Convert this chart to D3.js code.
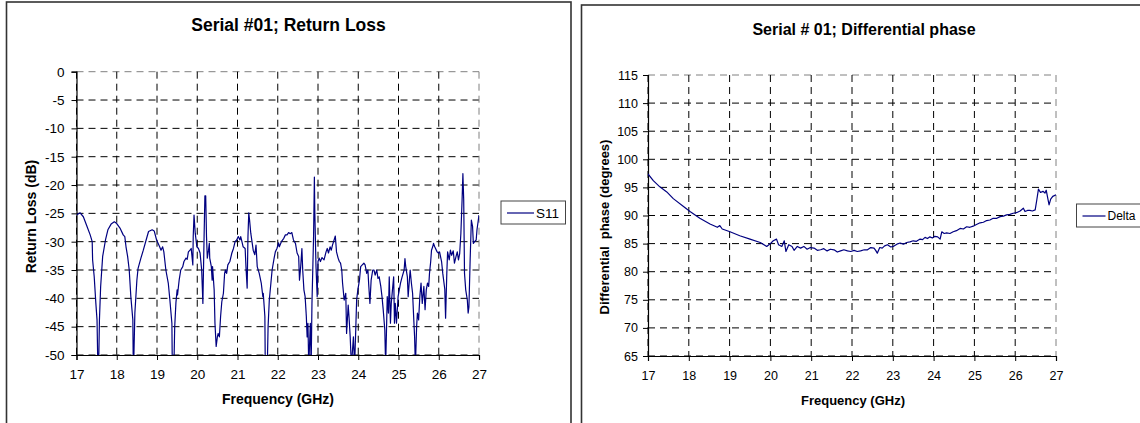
<!DOCTYPE html>
<html>
<head>
<meta charset="utf-8">
<script src="https://cdn.jsdelivr.net/npm/d3@7"></script>
<style>
  html, body { margin: 0; padding: 0; background: #fff; }
  svg { display: block; font-family: "Liberation Sans", Arial, sans-serif; }
</style>
</head>
<body>
<svg id="chart" width="1140" height="423"></svg>
<script>
// ---- Return loss (S11) measurement, dB vs GHz ----
const s11Freq = [
  17.0, 17.09, 17.17, 17.25, 17.34, 17.39, 17.40, 17.44, 17.48, 17.51, 17.53, 17.55, 17.57, 17.60, 17.65, 17.72, 17.78, 17.86, 17.94,
  18.0, 18.08, 18.16, 18.20, 18.23, 18.27, 18.31, 18.35, 18.40, 18.41, 18.42, 18.45, 18.50, 18.53, 18.60, 18.66, 18.73, 18.79, 18.88, 18.93, 18.99,
  19.06, 19.10, 19.14, 19.17, 19.22, 19.28, 19.32, 19.37, 19.38, 19.42, 19.44, 19.47, 19.50, 19.51, 19.55, 19.59, 19.64, 19.67, 19.72, 19.75, 19.78, 19.82, 19.85, 19.89, 19.90, 19.92, 19.95, 19.99,
  20.03, 20.07, 20.11, 20.14, 20.15, 20.17, 20.19, 20.21, 20.23, 20.25, 20.28, 20.30, 20.31, 20.35, 20.37, 20.38, 20.42, 20.44, 20.47, 20.50, 20.52, 20.55, 20.58, 20.61, 20.65, 20.68, 20.70, 20.73, 20.76, 20.81, 20.86, 20.90, 20.94, 20.98,
  21.02, 21.06, 21.08, 21.11, 21.14, 21.19, 21.21, 21.24, 21.26, 21.28, 21.30, 21.33, 21.36, 21.39, 21.43, 21.46, 21.49, 21.54, 21.59, 21.63, 21.64, 21.68, 21.69, 21.74, 21.76, 21.79, 21.83, 21.86, 21.91, 21.94, 21.98,
  22.02, 22.04, 22.09, 22.15, 22.19, 22.23, 22.27, 22.31, 22.35, 22.39, 22.44, 22.48, 22.52, 22.54, 22.57, 22.60, 22.62, 22.65, 22.68, 22.71, 22.73, 22.75, 22.77, 22.81, 22.83, 22.85, 22.87, 22.89, 22.91, 22.92, 22.95, 22.98,
  23.00, 23.03, 23.06, 23.10, 23.15, 23.20, 23.23, 23.26, 23.30, 23.33, 23.36, 23.40, 23.43, 23.46, 23.50, 23.53, 23.56, 23.59, 23.61, 23.65, 23.69, 23.71, 23.75, 23.77, 23.80, 23.83, 23.88, 23.91, 23.94, 23.96, 23.99,
  24.03, 24.06, 24.10, 24.14, 24.17, 24.21, 24.24, 24.26, 24.29, 24.32, 24.36, 24.39, 24.42, 24.46, 24.49, 24.52, 24.56, 24.59, 24.62, 24.66, 24.68, 24.70, 24.72, 24.75, 24.77, 24.80, 24.82, 24.85, 24.88, 24.90, 24.92, 24.95, 24.99,
  25.02, 25.05, 25.09, 25.14, 25.16, 25.18, 25.22, 25.24, 25.27, 25.29, 25.32, 25.35, 25.38, 25.40, 25.42, 25.45, 25.47, 25.50, 25.53, 25.56, 25.59, 25.63, 25.66, 25.69, 25.72, 25.75, 25.77, 25.80, 25.82, 25.85, 25.87, 25.90, 25.96, 25.99,
  26.02, 26.07, 26.10, 26.15, 26.17, 26.20, 26.22, 26.26, 26.29, 26.32, 26.36, 26.39, 26.43, 26.46, 26.49, 26.52, 26.55, 26.58, 26.60, 26.62, 26.64, 26.67, 26.71, 26.73, 26.75, 26.78, 26.81, 26.84, 26.86, 26.89, 26.93, 26.95, 27.0
];
const s11 = [
  -25.3, -24.9, -25.6, -27.1, -28.8, -30.0, -33.2, -36.2, -40.8, -43.8, -52, -52, -43.8, -37.9, -32.6, -29.7, -27.9, -26.9, -26.5,
  -26.8, -27.6, -28.8, -29.1, -30.9, -32.6, -35.0, -39.7, -43.8, -52, -52, -42.6, -36.8, -34.7, -32.9, -31.5, -29.7, -28.2, -27.9, -28.1, -29.7,
  -30.8, -31.5, -30.9, -31.8, -35.0, -37.3, -40.3, -44.4, -52, -52, -45.0, -40.8, -38.5, -39.4, -36.8, -35.0, -34.4, -33.5, -32.9, -33.1, -31.8, -31.5, -31.2, -34.1, -29.1, -25.3, -28.5, -30.9,
  -31.2, -32.0, -35.0, -40.9, -36.8, -29.1, -21.9, -21.9, -29.1, -32.9, -31.5, -30.3, -32.9, -34.4, -36.8, -34.4, -38.5, -44.4, -48.5, -46.8, -46.2, -46.8, -43.2, -40.6, -39.1, -35.6, -35.0, -35.6, -34.1, -33.5, -32.0, -31.2, -30.0, -29.7,
  -29.1, -29.7, -29.1, -30.0, -30.9, -31.2, -34.4, -38.2, -29.1, -24.9, -26.2, -28.5, -30.0, -31.5, -32.3, -30.6, -34.4, -35.6, -37.3, -39.7, -39.1, -43.2, -52, -52, -45.0, -40.3, -37.3, -35.0, -32.9, -31.8, -31.2,
  -30.2, -30.9, -30.0, -29.4, -28.8, -28.8, -28.4, -28.6, -28.4, -29.7, -30.3, -32.0, -32.6, -36.8, -34.4, -31.2, -35.0, -38.5, -39.7, -43.2, -46.8, -44.4, -52, -44.4, -52, -40.9, -35.0, -29.1, -18.6, -24.4, -34.4, -39.7,
  -33.5, -32.9, -33.5, -32.8, -33.2, -31.8, -31.2, -32.0, -30.9, -31.5, -30.6, -29.7, -29.0, -31.8, -32.9, -33.5, -33.8, -35.0, -37.3, -40.3, -39.1, -46.2, -41.2, -43.2, -46.8, -52, -46.8, -52, -45.0, -40.3, -38.5,
  -36.8, -34.4, -34.1, -33.8, -34.1, -35.6, -35.0, -37.6, -40.9, -36.8, -35.0, -35.0, -35.9, -35.0, -36.5, -36.2, -37.9, -39.7, -42.0, -45.6, -52, -46.2, -39.7, -42.6, -36.2, -44.4, -40.9, -38.5, -36.2, -44.4, -40.9, -44.4, -39.7,
  -38.5, -37.3, -36.2, -35.0, -33.0, -34.4, -36.2, -39.7, -36.8, -35.0, -37.3, -39.1, -43.8, -46.8, -52, -45.0, -42.6, -43.8, -39.7, -37.3, -40.9, -37.9, -42.0, -38.5, -37.3, -37.9, -35.6, -33.5, -31.5, -30.9, -30.3, -30.9, -31.8, -32.0,
  -31.8, -33.5, -35.6, -38.4, -43.5, -35.6, -31.8, -33.2, -31.5, -32.4, -31.6, -33.8, -32.6, -31.8, -33.2, -32.1, -28.5, -22.6, -18.0, -22.6, -35.6, -38.5, -40.3, -42.6, -41.5, -33.2, -26.2, -27.3, -30.3, -30.0, -29.7, -27.9, -25.3
];

// ---- Differential phase measurement, degrees vs GHz ----
const deltaFreq = [
  17.0, 17.13, 17.29, 17.46, 17.62, 17.87, 18.03, 18.27, 18.52, 18.70, 18.76, 18.82, 19.01, 19.25, 19.50, 19.75, 19.91, 20.0, 20.07, 20.15, 20.20, 20.28, 20.34, 20.38,
  20.45, 20.53, 20.58, 20.66, 20.74, 20.82, 20.90, 20.98, 21.07, 21.15, 21.23, 21.31, 21.39, 21.47, 21.56, 21.64, 21.72, 21.80, 21.89, 21.97, 22.05, 22.13, 22.21, 22.30,
  22.38, 22.46, 22.54, 22.58, 22.62, 22.68, 22.74, 22.80, 22.87, 22.95, 23.01, 23.10, 23.18, 23.26, 23.34, 23.42, 23.50, 23.58, 23.67, 23.73, 23.79, 23.85, 23.91, 23.97, 24.03, 24.10,
  24.16, 24.20, 24.26, 24.32, 24.40, 24.48, 24.56, 24.65, 24.73, 24.81, 24.89, 24.97, 25.05, 25.14, 25.22, 25.30, 25.38, 25.46, 25.55, 25.63, 25.71, 25.79, 25.87, 25.95, 26.03, 26.12,
  26.20, 26.24, 26.30, 26.36, 26.42, 26.49, 26.53, 26.57, 26.62, 26.68, 26.73, 26.76, 26.80, 26.83, 26.87, 26.92, 27.0
];
const delta = [
  97.4, 96.2, 95.1, 94.2, 93.0, 91.6, 90.7, 89.5, 88.5, 87.9, 88.2, 87.6, 87.1, 86.4, 85.8, 85.2, 84.5, 85.0, 85.5, 85.8, 84.8, 84.5, 85.5, 83.6,
  84.8, 84.5, 83.8, 84.5, 84.2, 84.5, 84.0, 84.3, 84.2, 83.8, 83.9, 84.1, 83.7, 84.0, 83.9, 83.5, 83.7, 83.9, 83.7, 83.6, 83.8, 83.6, 83.7, 83.9,
  83.9, 84.3, 84.2, 83.8, 83.3, 84.3, 84.2, 84.6, 84.8, 84.4, 84.5, 84.9, 85.1, 84.9, 85.2, 85.3, 85.5, 85.4, 85.8, 85.7, 86.1, 85.9, 86.2, 86.0, 86.3, 86.2,
  85.8, 87.1, 86.8, 86.9, 86.8, 87.1, 87.3, 87.7, 87.6, 88.0, 87.9, 88.1, 88.4, 88.7, 88.8, 89.1, 89.2, 89.5, 89.5, 89.8, 89.9, 90.1, 90.2, 90.4, 90.5, 90.8,
  91.3, 90.7, 90.9, 90.9, 90.8, 91.0, 92.8, 94.7, 94.1, 94.3, 94.0, 94.5, 93.0, 91.9, 92.9, 93.4, 93.7
];

const xTicks = [17, 18, 19, 20, 21, 22, 23, 24, 25, 26, 27];
const s11Ticks = [0, -5, -10, -15, -20, -25, -30, -35, -40, -45, -50];
const deltaTicks = [65, 70, 75, 80, 85, 90, 95, 100, 105, 110, 115];

const svg = d3.select("#chart");
const FONT = "'Liberation Sans', Arial, sans-serif";
// plain hyphen-minus for negative tick values
const plainNumber = d => String(d);

// outer chart frames
svg.append("rect").attr("x", 6.5).attr("y", 2).attr("width", 564.5).attr("height", 440)
  .attr("fill", "none").attr("stroke", "#333").attr("stroke-width", 1.6);
svg.append("rect").attr("x", 581.5).attr("y", 5).attr("width", 600).attr("height", 440)
  .attr("fill", "none").attr("stroke", "#333").attr("stroke-width", 1.6);

function drawPanel(cfg) {
  const g = svg.append("g");
  const x = d3.scaleLinear().domain([17, 27]).range([cfg.x0, cfg.x1]);
  const y = d3.scaleLinear().domain(cfg.yDomain).range([cfg.y1, cfg.y0]);

  // dashed grid
  g.append("g").selectAll("line").data(cfg.yTicks).join("line")
    .attr("x1", cfg.x0).attr("x2", cfg.x1)
    .attr("y1", d => y(d)).attr("y2", d => y(d))
    .attr("stroke", d => d === cfg.yDomain[1] ? "#808080" : "#000")
    .attr("stroke-width", 1).attr("stroke-dasharray", "7,5");
  g.append("g").selectAll("line").data(xTicks).join("line")
    .attr("y1", cfg.y0).attr("y2", cfg.y1)
    .attr("x1", d => x(d)).attr("x2", d => x(d))
    .attr("stroke", d => d === 27 ? "#808080" : "#000")
    .attr("stroke-width", 1).attr("stroke-dasharray", "7,5");

  // axes
  const yAxis = d3.axisLeft(y).tickValues(cfg.yTicks).tickSize(5).tickPadding(cfg.yPad).tickFormat(plainNumber);
  const xAxis = d3.axisBottom(x).tickValues(xTicks).tickSize(5).tickPadding(cfg.xPad).tickFormat(plainNumber);
  const ya = g.append("g").attr("transform", `translate(${cfg.x0},0)`).call(yAxis);
  const xa = g.append("g").attr("transform", `translate(0,${cfg.y1})`).call(xAxis);
  [ya, xa].forEach(a => {
    a.select(".domain").attr("stroke", "#000").attr("stroke-width", 1.2);
    a.selectAll(".tick line").attr("stroke", "#000");
    a.selectAll(".tick text").attr("fill", "#000")
      .style("font-family", FONT).style("font-size", cfg.tickSize + "px");
  });
  xa.selectAll(".tick text").attr("dy", "0.71em");

  // series
  const clipId = "clip-" + cfg.id;
  svg.append("clipPath").attr("id", clipId).append("rect")
    .attr("x", cfg.x0).attr("y", cfg.y0).attr("width", cfg.x1 - cfg.x0).attr("height", cfg.y1 - cfg.y0);
  const line = d3.line().x(d => x(d[0])).y(d => y(d[1]));
  g.append("path").datum(d3.zip(cfg.fx, cfg.vals))
    .attr("clip-path", `url(#${clipId})`)
    .attr("d", line).attr("fill", "none").attr("stroke", "#000080").attr("stroke-width", 1.2)
    .attr("stroke-linejoin", "round");

  // titles
  g.append("text").attr("x", cfg.titleX).attr("y", cfg.titleY).attr("text-anchor", "middle")
    .style("font-family", FONT).style("font-weight", "bold").style("font-size", cfg.titleSize + "px")
    .text(cfg.title);
  g.append("text").attr("x", cfg.xTitleX).attr("y", cfg.xTitleY).attr("text-anchor", "middle")
    .style("font-family", FONT).style("font-weight", "bold").style("font-size", cfg.axisTitleSize + "px")
    .text("Frequency (GHz)");
  g.append("text").attr("transform", `translate(${cfg.yTitleX},${cfg.yTitleY}) rotate(-90)`)
    .attr("text-anchor", "middle").attr("dy", "0.35em")
    .style("font-family", FONT).style("font-weight", "bold").style("font-size", cfg.axisTitleSize + "px")
    .style("white-space", "pre")
    .text(cfg.yTitle);

  // legend
  const lg = g.append("g");
  lg.append("rect").attr("x", cfg.lgX).attr("y", cfg.lgY).attr("width", cfg.lgW).attr("height", 23)
    .attr("fill", "#fff").attr("stroke", "#444").attr("stroke-width", 1);
  lg.append("line").attr("x1", cfg.lgX + 6).attr("x2", cfg.lgX + cfg.lgLine)
    .attr("y1", cfg.lgY + 12).attr("y2", cfg.lgY + 12)
    .attr("stroke", "#000080").attr("stroke-width", 1.2);
  lg.append("text").attr("x", cfg.lgX + cfg.lgLine + 2).attr("y", cfg.lgY + 12).attr("dy", "0.35em")
    .style("font-family", FONT).style("font-size", cfg.lgSize + "px").text(cfg.name);
}

drawPanel({
  id: "s11", x0: 76.5, x1: 479, y0: 71.7, y1: 355,
  yDomain: [-50, 0], yTicks: s11Ticks, fx: s11Freq, vals: s11,
  yPad: 7, xPad: 9, tickSize: 13.5,
  title: "Serial #01; Return Loss", titleX: 288.5, titleY: 31, titleSize: 17.5,
  xTitleX: 278, xTitleY: 404, yTitle: "Return Loss (dB)", yTitleX: 31, yTitleY: 216.5, axisTitleSize: 14,
  lgX: 501, lgY: 201, lgW: 64.5, lgLine: 33, lgSize: 13.5, name: "S11"
});

drawPanel({
  id: "delta", x0: 648, x1: 1056, y0: 75, y1: 356,
  yDomain: [65, 115], yTicks: deltaTicks, fx: deltaFreq, vals: delta,
  yPad: 5, xPad: 10, tickSize: 12.5,
  title: "Serial # 01; Differential phase", titleX: 864, titleY: 35, titleSize: 16,
  xTitleX: 853, xTitleY: 405, yTitle: "Differential  phase (degrees)", yTitleX: 604.5, yTitleY: 227, axisTitleSize: 13,
  lgX: 1076.5, lgY: 204, lgW: 80, lgLine: 29, lgSize: 12, name: "Delta"
});
</script>
</body>
</html>
